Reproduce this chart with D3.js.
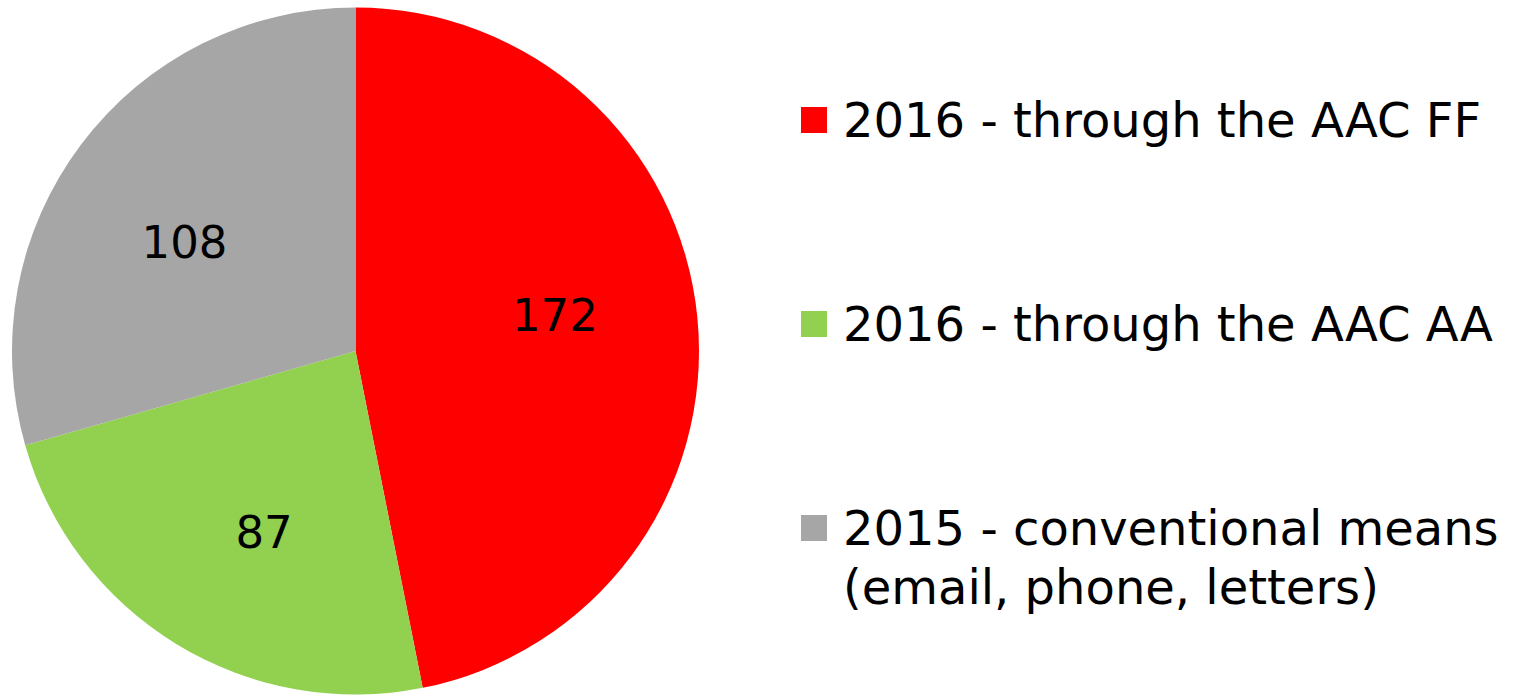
<!DOCTYPE html>
<html>
<head>
<meta charset="utf-8">
<script src="https://cdn.jsdelivr.net/npm/d3@7"></script>
<style>
  html, body { margin: 0; padding: 0; background: #fff; }
  svg { display: block; }
</style>
</head>
<body>
<div id="chart"></div>
<script>
// --- data ---
const categories = [
  '2016 - through the AAC FF',
  '2016 - through the AAC AA',
  '2015 - conventional means\n(email, phone, letters)'
];
const values = [172, 87, 108];
const colors = ['#FF0000', '#92D050', '#A6A6A6'];

const W = 1519, H = 696;
const cx = 355.5, cy = 351, R = 343.5;
const font = '"DejaVu Sans", Verdana, sans-serif';

const svg = d3.select('#chart').append('svg')
  .attr('width', W).attr('height', H);

const pie = d3.pie().sort(null).value(d => d)(values);
const arc = d3.arc().innerRadius(0).outerRadius(R);
const labelArc = d3.arc().innerRadius(R * 0.59).outerRadius(R * 0.59);

const g = svg.append('g').attr('transform', `translate(${cx},${cy})`);

g.selectAll('path.slice')
  .data(pie)
  .join('path')
  .attr('class', 'slice')
  .attr('d', arc)
  .attr('fill', (d, i) => colors[i]);

// value labels (Excel puts them a bit before the slice middle)
g.selectAll('text.val')
  .data(pie)
  .join('text')
  .attr('class', 'val')
  .attr('transform', d => {
    const a = (d.startAngle + d.endAngle) / 2 - 0.08;
    const r = R * 0.59;
    return `translate(${r * Math.sin(a)},${-r * Math.cos(a)})`;
  })
  .attr('text-anchor', 'middle')
  .attr('dy', '0.36em')
  .attr('font-family', font)
  .attr('font-size', '45px')
  .attr('fill', '#000')
  .text(d => d.data);

// legend
const legendX = 801, legendY0 = 120, legendStep = 204;
const legend = svg.append('g');

categories.forEach((cat, i) => {
  const row = legend.append('g')
    .attr('transform', `translate(${legendX},${legendY0 + i * legendStep})`);
  row.append('rect')
    .attr('x', 0).attr('y', -13)
    .attr('width', 26).attr('height', 26)
    .attr('fill', colors[i]);
  const t = row.append('text')
    .attr('x', 42).attr('y', 17)
    .attr('font-family', font)
    .attr('font-size', '48px')
    .attr('fill', '#000');
  cat.split('\n').forEach((line, j) => {
    t.append('tspan')
      .attr('x', 42)
      .attr('dy', j === 0 ? 0 : 59)
      .text(line);
  });
});
</script>
</body>
</html>
